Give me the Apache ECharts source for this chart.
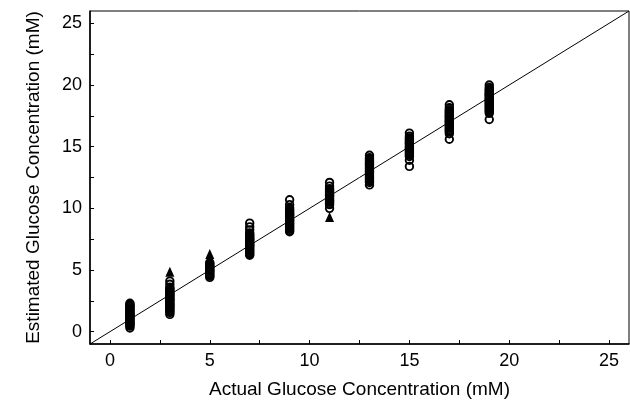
<!DOCTYPE html>
<html>
<head>
<meta charset="utf-8">
<title>Estimated vs Actual Glucose</title>
<script src="https://cdn.jsdelivr.net/npm/echarts@6/dist/echarts.min.js"></script>
<style>
  html, body { margin: 0; padding: 0; background: #fff; }
  #chart { width: 630px; height: 404px; }
</style>
</head>
<body>
<div id="chart"></div>
<script>
// actual concentrations (mM) of each sample group
var actual = [1, 3, 5, 7, 9, 11, 13, 15, 17, 19];

// estimated concentrations, one list per group (open circles)
var est1 = [2.3, 2.2, 2.1, 2.05, 1.95, 1.85, 1.8, 1.7, 1.6, 1.5, 1.45, 1.35, 1.3, 1.2, 1.1, 1.05, 0.95, 0.85, 0.8, 0.7, 0.6, 0.55, 0.45, 0.3];
var est3 = [4.1, 3.85, 3.6, 3.5, 3.4, 3.3, 3.2, 3.1, 3.0, 2.95, 2.85, 2.75, 2.65, 2.6, 2.5, 2.4, 2.3, 2.2, 2.15, 2.05, 1.95, 1.85, 1.75, 1.65, 1.55, 1.4];
var est5 = [5.6, 5.5, 5.4, 5.3, 5.25, 5.15, 5.05, 4.95, 4.9, 4.8, 4.7, 4.6, 4.5, 4.4];
var est7 = [8.8, 8.5, 8.25, 8.0, 7.9, 7.8, 7.7, 7.6, 7.5, 7.45, 7.35, 7.25, 7.15, 7.05, 7.0, 6.9, 6.8, 6.7, 6.6, 6.5, 6.4, 6.3, 6.2];
var est9 = [10.7, 10.3, 10.05, 9.9, 9.8, 9.7, 9.6, 9.5, 9.45, 9.35, 9.25, 9.15, 9.05, 9.0, 8.9, 8.8, 8.7, 8.6, 8.5, 8.4, 8.3, 8.2, 8.1];
var est11 = [12.1, 11.8, 11.6, 11.5, 11.4, 11.3, 11.2, 11.1, 11.05, 10.95, 10.85, 10.75, 10.65, 10.6, 10.5, 10.4, 10.3, 10.0];
var est13 = [14.3, 14.1, 14.0, 13.9, 13.8, 13.7, 13.6, 13.55, 13.45, 13.35, 13.25, 13.15, 13.05, 13.0, 12.9, 12.8, 12.7, 12.6, 12.5, 12.4, 12.3, 12.2, 12.1, 11.9];
var est15 = [16.1, 15.85, 15.7, 15.6, 15.5, 15.4, 15.3, 15.25, 15.15, 15.05, 14.95, 14.85, 14.8, 14.7, 14.6, 14.5, 14.4, 14.3, 14.2, 13.9, 13.4];
var est17 = [18.4, 18.15, 18.0, 17.9, 17.8, 17.7, 17.6, 17.5, 17.45, 17.35, 17.25, 17.15, 17.05, 17.0, 16.9, 16.8, 16.7, 16.6, 16.5, 16.4, 16.3, 16.2, 16.05, 15.6];
var est19 = [20.0, 19.8, 19.65, 19.55, 19.45, 19.35, 19.25, 19.2, 19.1, 19.0, 18.9, 18.8, 18.75, 18.65, 18.55, 18.45, 18.35, 18.25, 18.15, 18.05, 17.95, 17.85, 17.7, 17.2];

// filled triangles
var triActual = [3, 5, 11];
var triEst = [4.85, 6.3, 9.3];

// identity line ends
var diagonal = [-1, 26];

// tick labels
var majorTicks = [0, 5, 10, 15, 20, 25];
var minorTicks = [0, 2.5, 5, 7.5, 10, 12.5, 15, 17.5, 20, 22.5, 25];

var groups = [est1, est3, est5, est7, est9, est11, est13, est15, est17, est19];
var circleData = [];
for (var i = 0; i < actual.length; i++) {
    for (var j = 0; j < groups[i].length; j++) {
        circleData.push([actual[i], groups[i][j]]);
    }
}
var triData = [];
for (var k = 0; k < triActual.length; k++) {
    triData.push([triActual[k], triEst[k]]);
}

var font = 'Liberation Sans, Arial, sans-serif';

function axisOf(name, gap) {
    return {
        type: 'value',
        min: -1,
        max: 26,
        name: name,
        nameLocation: 'middle',
        nameGap: gap,
        nameTextStyle: { color: '#000', fontSize: 19, fontFamily: font },
        axisLine: { show: true, onZero: false, lineStyle: { color: '#000', width: 1.5 } },
        axisTick: { show: true, inside: true, length: 4, customValues: minorTicks,
            lineStyle: { color: '#000', width: 1 } },
        axisLabel: { customValues: majorTicks, color: '#000', fontSize: 18, fontFamily: font, margin: 8 },
        splitLine: { show: false }
    };
}

var myChart = echarts.init(document.getElementById('chart'));
var option = {
    animation: false,
    backgroundColor: '#fff',
    grid: {
        left: 90, right: 1, top: 11, bottom: 58,
        show: true, borderColor: '#000', borderWidth: 1
    },
    xAxis: axisOf('Actual Glucose Concentration (mM)', 36),
    yAxis: axisOf('Estimated Glucose Concentration (mM)', 47),
    series: [
        {
            type: 'line',
            data: [[diagonal[0], diagonal[0]], [diagonal[1], diagonal[1]]],
            symbol: 'none',
            lineStyle: { color: '#000', width: 1 },
            silent: true
        },
        {
            type: 'scatter',
            data: circleData,
            symbol: 'circle',
            symbolSize: 7.5,
            itemStyle: { color: 'rgba(0,0,0,0)', borderColor: '#000', borderWidth: 1.9, opacity: 1 }
        },
        {
            type: 'scatter',
            data: triData,
            symbol: 'triangle',
            symbolSize: [9, 10],
            itemStyle: { color: '#000', opacity: 1 }
        }
    ]
};
myChart.setOption(option);
</script>
</body>
</html>
